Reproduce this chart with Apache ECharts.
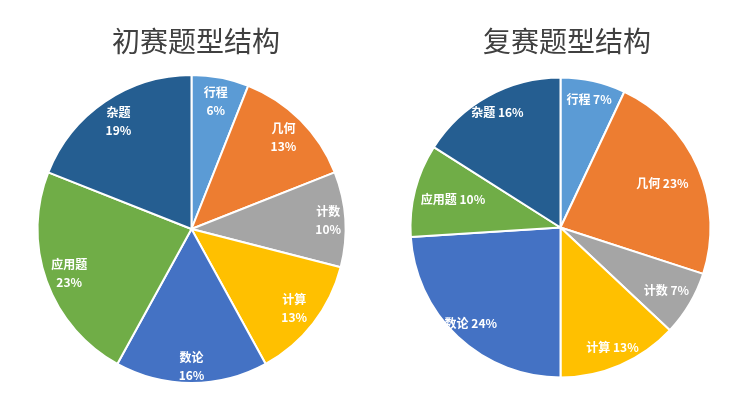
<!DOCTYPE html>
<html>
<head>
<meta charset="utf-8">
<script src="https://cdn.jsdelivr.net/npm/echarts@6/dist/echarts.min.js"></script>
<style>html,body{margin:0;padding:0;background:#fff;}#c{width:752px;height:399px;}</style>
</head>
<body>
<div id="c"></div>
<script>
var categories = ['行程', '几何', '计数', '计算', '数论', '应用题', '杂题'];
var prelimValues = [6, 13, 10, 13, 16, 23, 19];
var finalValues = [7, 23, 7, 13, 24, 10, 16];
var titles = ['初赛题型结构', '复赛题型结构'];
var colors = ['#5B9BD5', '#ED7D31', '#A5A5A5', '#FFC000', '#4472C4', '#70AD47', '#255E91'];

var font = '"Noto Sans CJK SC", "Noto Sans", sans-serif';
function mk(vals, show) {
  return categories.map(function (c, i) {
    var d = { name: c, value: vals[i] };
    if (show) d.label = { show: show.indexOf(c) >= 0 };
    return d;
  });
}
function pieSeries(vals, center, r) {
  return {
    type: 'pie', center: center, radius: [0, r], startAngle: 90, clockwise: true,
    data: mk(vals), color: colors, silent: true, animation: false,
    itemStyle: { borderColor: '#fff', borderWidth: 2 },
    label: { show: false }, labelLine: { show: false }
  };
}
function labelSeries(vals, center, r0, r, twoLine, show) {
  return {
    type: 'pie', center: center, radius: [r0, r], startAngle: 90, clockwise: true,
    data: mk(vals, show), silent: true, animation: false,
    itemStyle: { color: 'rgba(0,0,0,0)' },
    label: {
      show: true, position: 'inside', color: '#fff', fontWeight: 'bold',
      fontSize: 12, fontFamily: font, lineHeight: 18,
      formatter: twoLine ? '{b}\n{c}%' : '{b} {c}%'
    },
    labelLine: { show: false }
  };
}
var cL = [191.5, 229], cR = [560.5, 227.5];
var chart = echarts.init(document.getElementById('c'));
chart.setOption({
  backgroundColor: '#fff',
  title: [
    { text: titles[0], left: 191, top: 22, textAlign: 'center',
      textStyle: { fontSize: 28, fontWeight: 'normal', color: '#404040', fontFamily: font } },
    { text: titles[1], left: 562, top: 22, textAlign: 'center',
      textStyle: { fontSize: 28, fontWeight: 'normal', color: '#404040', fontFamily: font } }
  ],
  series: [
    pieSeries(prelimValues, cL, 154),
    pieSeries(finalValues, cR, 150),
    labelSeries(prelimValues, cL, 100, 154, true, ['行程', '几何', '计算', '应用题', '杂题']),
    labelSeries(prelimValues, cL, 114, 154, true, ['计数', '数论']),
    labelSeries(finalValues, cR, 106, 150, false, ['行程', '计算', '数论', '杂题']),
    labelSeries(finalValues, cR, 90, 150, false, ['计数']),
    labelSeries(finalValues, cR, 66, 150, false, ['几何', '应用题'])
  ]
});
</script>
</body>
</html>
